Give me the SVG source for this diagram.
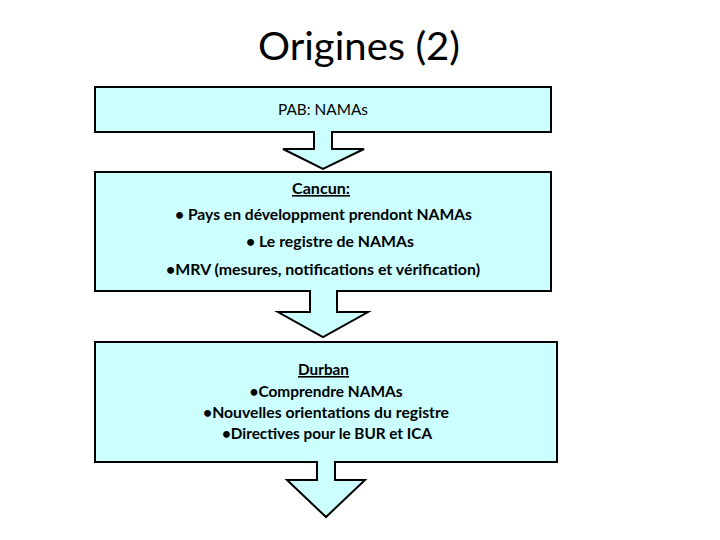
<svg xmlns="http://www.w3.org/2000/svg" width="720" height="540" viewBox="0 0 720 540">
<style>
.box{fill:#CCFFFF;stroke:#000;stroke-width:2}
.arr{fill:#CCFFFF;stroke:#000;stroke-width:2;stroke-linejoin:miter}
.t{font-family:Lato,"Liberation Sans",Arial,sans-serif;font-size:16px;fill:#000;text-anchor:middle}
.b{font-weight:bold}
.u{text-decoration:underline}
.title{font-family:Lato,"Liberation Sans",Arial,sans-serif;font-size:39px;fill:#000}
</style>
<rect width="720" height="540" fill="#fff"/>
<text class="title" x="258" y="60" textLength="202" lengthAdjust="spacingAndGlyphs">Origines (2)</text>
<g id="node-pab">
<rect class="box" x="95" y="87" width="456" height="45"/>
<text class="t" x="323" y="115" textLength="90" lengthAdjust="spacingAndGlyphs">PAB: NAMAs</text>
</g>
<g id="node-cancun">
<rect class="box" x="95" y="172" width="456" height="119"/>
<text class="t b u" x="321" y="194" textLength="58" lengthAdjust="spacingAndGlyphs">Cancun:</text>
<text class="t b" x="323.5" y="220" textLength="297" lengthAdjust="spacingAndGlyphs">• Pays en développment prendont NAMAs</text>
<text class="t b" x="330" y="247" textLength="168" lengthAdjust="spacingAndGlyphs">• Le registre de NAMAs</text>
<text class="t b" x="323" y="275" textLength="314" lengthAdjust="spacingAndGlyphs">•MRV (mesures, notifications et vérification)</text>
</g>
<g id="node-durban">
<rect class="box" x="95" y="342" width="462" height="120"/>
<text class="t b u" x="323.5" y="375" textLength="51" lengthAdjust="spacingAndGlyphs">Durban</text>
<text class="t b" x="326" y="397" textLength="153" lengthAdjust="spacingAndGlyphs">•Comprendre NAMAs</text>
<text class="t b" x="326" y="418" textLength="246" lengthAdjust="spacingAndGlyphs">•Nouvelles orientations du registre</text>
<text class="t b" x="327" y="439" textLength="210" lengthAdjust="spacingAndGlyphs">•Directives pour le BUR et ICA</text>
</g>
<g id="connectors">
<path class="arr" d="M314,131 V149 H283 L323,169 L364,149 H332 V131"/>
<path class="arr" d="M310,290 V312 H278 L323,337 L368,312 H337 V290"/>
<path class="arr" d="M317,461 V480 H287 L326,517 L365,480 H335 V461"/>
</g>
</svg>
